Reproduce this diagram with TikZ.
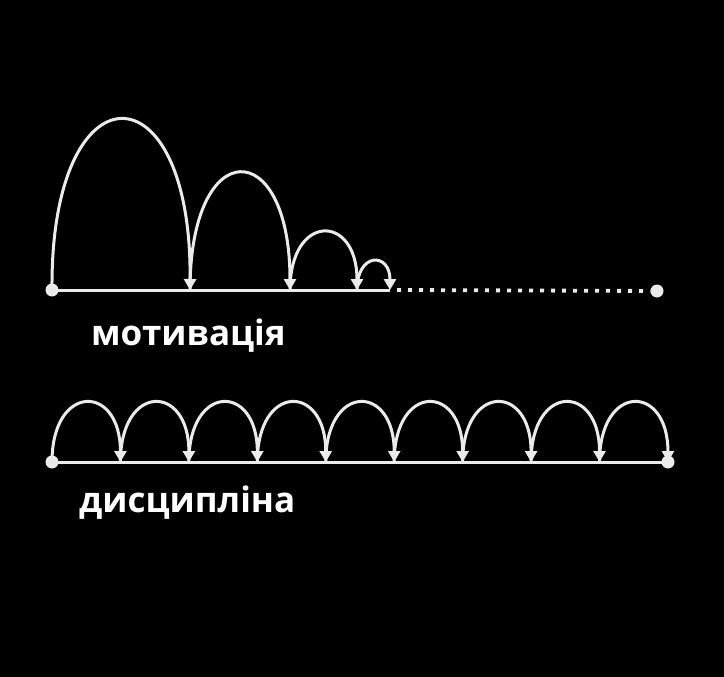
\documentclass[tikz,border=0pt]{standalone}
\usepackage{fontspec}
\setmainfont{Open Sans}
\usetikzlibrary{arrows.meta,calc}
\begin{document}
\begin{tikzpicture}[x=1pt,y=-1pt,
  ln/.style={draw=white!92!black,line width=3pt},
  hop/.style={ln,-{Triangle[width=12pt,length=11pt]}},
  dotend/.style={circle,fill=white!92!black,inner sep=0pt,minimum size=13pt},
  lbl/.style={text=white,font=\fontsize{35}{42}\selectfont\bfseries,inner sep=0pt}]
\fill[black] (0,0) rectangle (724,677);
\useasboundingbox (0,0) rectangle (724,677);
% motivation
\node[dotend] (m0) at (52,290) {};
\coordinate (m1) at (190,290);
\coordinate (m2) at (290,290);
\coordinate (m3) at (357,290);
\coordinate (m4) at (390,290);
\node[dotend] (mend) at (657,291) {};
\draw[ln] (m0.center) -- (m4);
\draw[white!92!black,line width=3.8pt,dash pattern=on 4pt off 7pt] ($(m4)+(7,0)$) -- (mend);
\draw[hop] (m0.center) .. controls (50,63) and (192,63) .. (m1);
\draw[hop] (m1) .. controls (190,134) and (290,134) .. (m2);
\draw[hop] (m2) .. controls (290,213) and (357,213) .. (m3);
\draw[hop] (m3) .. controls (357,252) and (390,252) .. (m4);
\node[lbl,anchor=base west] (tm) at (91,345) {мотивація};
% discipline
\node[dotend] (d0) at (52,462) {};
\node[dotend] (d9) at (668,462) {};
\draw[ln] (d0.center) -- (d9.center);
\foreach \i in {0,...,8}{
  \pgfmathsetmacro{\xa}{52+68.44*\i}
  \pgfmathsetmacro{\xb}{52+68.44*(\i+1)}
  \draw[hop] (\xa,462) .. controls (\xa,383) and (\xb,383) .. (\xb,462);
}
\node[lbl,anchor=base west] (td) at (79,512) {дисципліна};
\end{tikzpicture}
\end{document}
